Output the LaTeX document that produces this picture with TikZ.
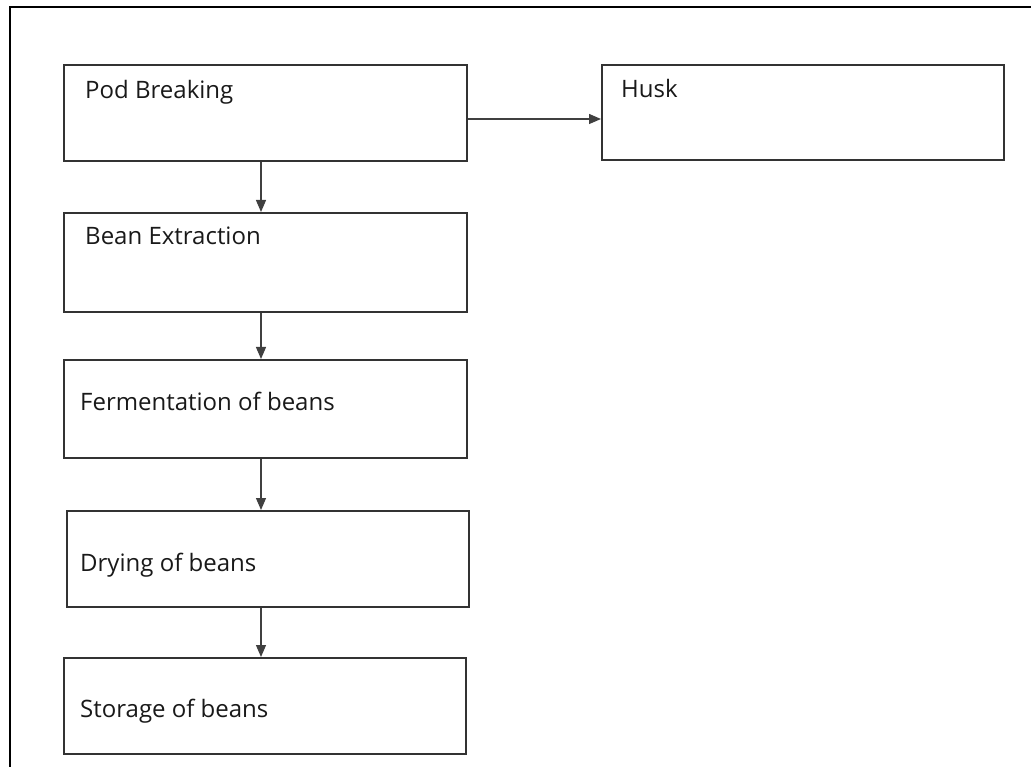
\documentclass[tikz,border=0pt]{standalone}
\usepackage{fontspec}
\setmainfont{Open Sans}
\usetikzlibrary{arrows.meta}
\begin{document}
\begin{tikzpicture}[x=1pt,y=-1pt,
  box/.style={draw=black!80,line width=2pt,rectangle,inner sep=0pt,minimum width=402pt,minimum height=96pt},
  lbl/.style={anchor=base west,inner sep=0pt,font=\fontsize{24}{29}\selectfont,text=black!90},
  arr/.style={draw=black!75,line width=1.3pt,-{Triangle[length=12pt,width=10pt]}}]
\useasboundingbox (0,0) rectangle (1031,767);
\draw[line width=1.6pt,black] (10,770) -- (10,7) -- (1035,7);
\node[box,minimum width=403pt] (pb) at (265.5,113) {};
\node[box,minimum height=95pt] (husk) at (803,112.5) {};
\node[box,minimum width=403pt,minimum height=99pt] (be) at (265.5,262.5) {};
\node[box,minimum width=403pt,minimum height=98pt] (fe) at (265.5,409) {};
\node[box] (dr) at (268,559) {};
\node[box] (st) at (265,706) {};
\node[lbl] (pbt) at (85,99) {Pod Breaking};
\node[lbl] (huskt) at (621,98) {Husk};
\node[lbl] (bet) at (85,245) {Bean Extraction};
\node[lbl] (fet) at (80,410) {Fermentation of beans};
\node[lbl] (drt) at (80,571) {Drying of beans};
\node[lbl] (stt) at (80,717) {Storage of beans};
\coordinate (ax) at (261,0);
\coordinate (hy) at (0,119);
\draw[arr] (pb.south -| ax) -- (be.north -| ax);
\draw[arr] (be.south -| ax) -- (fe.north -| ax);
\draw[arr] (fe.south -| ax) -- (dr.north -| ax);
\draw[arr] (dr.south -| ax) -- (st.north -| ax);
\draw[arr] (pb.east |- hy) -- (husk.west |- hy);
\end{tikzpicture}
\end{document}
